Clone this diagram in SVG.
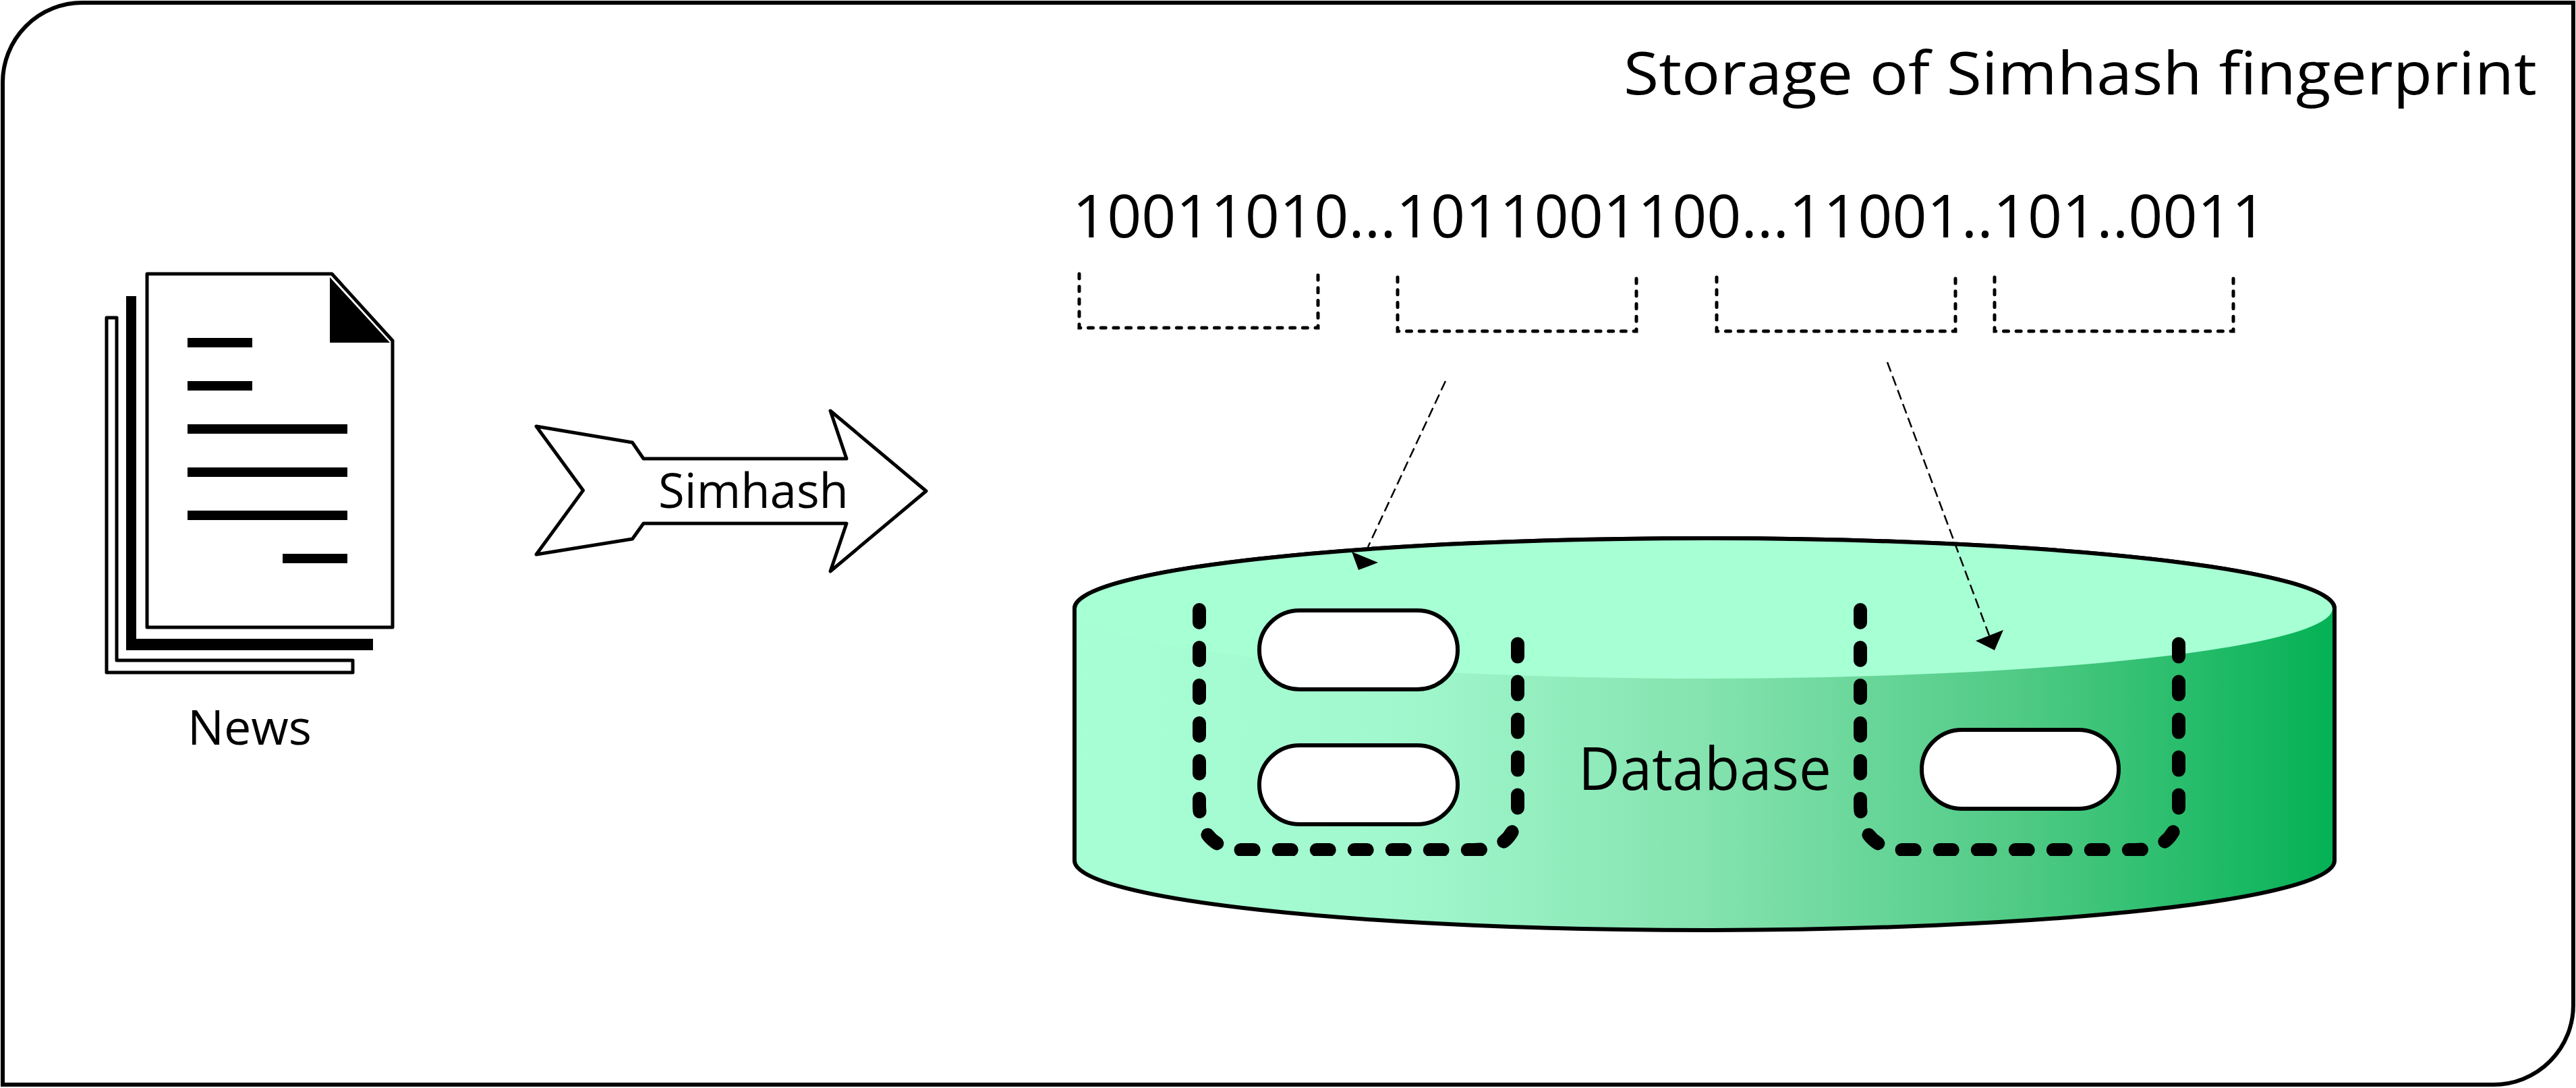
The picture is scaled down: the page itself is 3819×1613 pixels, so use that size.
<svg xmlns="http://www.w3.org/2000/svg" width="3819" height="1613" viewBox="0 0 3819 1613">
<style>
text{font-family:"Open Sans","Noto Sans","Liberation Sans",sans-serif;fill:#000}
.bar{fill:#000}
.br{fill:none;stroke:#000;stroke-width:5;stroke-linecap:round;stroke-dasharray:7 11.7}
.u{fill:none;stroke:#000;stroke-width:20;stroke-linecap:round;stroke-dasharray:19 37}
.pill{fill:#fff;stroke:#000;stroke-width:6}
.conn{fill:none;stroke:#000;stroke-width:2.500;stroke-dasharray:15 7}
</style>
<defs>
<linearGradient id="side" gradientUnits="userSpaceOnUse" x1="1593" y1="0" x2="3461" y2="0">
<stop offset="0" stop-color="#A8FFD5"/>
<stop offset="0.25" stop-color="#A2F8CE"/>
<stop offset="0.5" stop-color="#84E3AF"/>
<stop offset="0.75" stop-color="#50CA85"/>
<stop offset="1" stop-color="#04B155"/>
</linearGradient>
<clipPath id="uclip"><rect x="1700" y="880" width="1650" height="389"/></clipPath>
<path id="bracket" d="M0 0V80H354V0"/>
<g id="ushape"><path class="u" d="M1778 904V1195Q1780 1260 1845 1260H2185Q2250 1260 2250 1195V941"/></g>
</defs>
<g id="frame"><path d="M122 4H3815V1490A118 118 0 0 1 3697 1608H4V122A118 118 0 0 1 122 4Z" fill="#fff" stroke="#000" stroke-width="6"/></g>
<g id="title"><text x="2407" y="140" font-size="87" textLength="1354" lengthAdjust="spacingAndGlyphs">Storage of Simhash fingerprint</text></g>
<g id="news">
<path d="M158 471H173V979H523V997H158Z" fill="#fff" stroke="#000" stroke-width="5" stroke-linejoin="round"/>
<path d="M187 439H202V947H553V964H187Z" fill="#000"/>
<path d="M218 406H492L582 505V930H218Z" fill="#fff" stroke="#000" stroke-width="5" stroke-linejoin="round"/>
<path d="M489 411V508H578Z" fill="#000"/>
<rect class="bar" x="278" y="501" width="96" height="14"/>
<rect class="bar" x="278" y="565" width="96" height="14"/>
<rect class="bar" x="278" y="629" width="237" height="14"/>
<rect class="bar" x="278" y="693" width="237" height="14"/>
<rect class="bar" x="278" y="757" width="237" height="14"/>
<rect class="bar" x="419" y="821" width="96" height="14"/>
<text x="278" y="1104" font-size="72" textLength="184" lengthAdjust="spacingAndGlyphs">News</text>
</g>
<g id="simhash">
<path d="M795 632L937.500 656L954 680H1255L1231 609L1373 728L1231 847L1255 776H954L937.500 799L795 822L864.500 727Z" fill="#fff" stroke="#000" stroke-width="5" stroke-linejoin="round"/>
<text x="976" y="753" font-size="72" textLength="282" lengthAdjust="spacingAndGlyphs">Simhash</text>
</g>
<g id="bits">
<text x="1590" y="352" font-size="87" textLength="1770" lengthAdjust="spacingAndGlyphs">10011010...1011001100...11001..101..0011</text>
<use href="#bracket" class="br" x="1600" y="406"/>
<use href="#bracket" class="br" x="2072" y="411"/>
<use href="#bracket" class="br" x="2545" y="411"/>
<use href="#bracket" class="br" x="2957" y="411"/>
</g>
<g id="database">
<path d="M1593 902A934 104 0 0 1 3461 902V1276A934 103 0 0 1 1593 1276Z" fill="url(#side)" stroke="#000" stroke-width="6"/>
<path d="M1596 902A931 104 0 0 1 3458 902A931 104 0 0 1 1596 902Z" fill="#A7FFD4"/>
<path d="M1593 902A934 104 0 0 1 3461 902" fill="none" stroke="#000" stroke-width="6"/>
<text x="2340" y="1171" font-size="87" textLength="375" lengthAdjust="spacingAndGlyphs">Database</text>
</g>
<g id="bucket-1" clip-path="url(#uclip)"><use href="#ushape"/></g>
<g id="bucket-2" clip-path="url(#uclip)"><use href="#ushape" x="980"/></g>
<g id="record-1"><rect class="pill" x="1867" y="905" width="294" height="117" rx="60" ry="58"/></g>
<g id="record-2"><rect class="pill" x="1867" y="1105" width="294" height="117" rx="60" ry="58"/></g>
<g id="record-3"><rect class="pill" x="2849" y="1082" width="292" height="117" rx="60" ry="58"/></g>
<g id="connectors">
<path class="conn" d="M2143 565L2028 811"/>
<path d="M2004 818L2043 834L2014 845Z" fill="#000"/>
<path class="conn" d="M2798 537L2949 942"/>
<path d="M2970 934L2929 950L2957 964Z" fill="#000"/>
</g>
</svg>
